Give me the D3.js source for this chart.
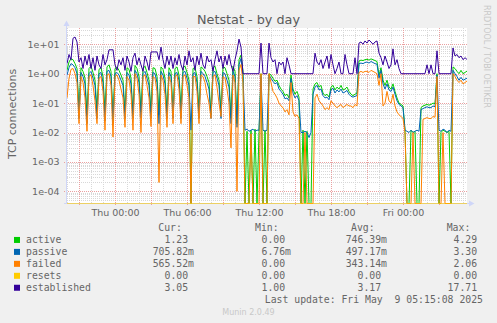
<!DOCTYPE html>
<html>
<head>
<meta charset="utf-8">
<script src="https://cdn.jsdelivr.net/npm/d3@7"></script>
<style>
body { margin: 0; background: #f0f0f0; }
svg { display: block; }
text { fill: #666; font-family: 'DejaVu Sans', sans-serif; }
.legend text { font-family: 'DejaVu Sans Mono', monospace; font-size: 9.8px; white-space: pre; }
</style>
</head>
<body>
<svg width="497" height="323"></svg>
<script>
// munin netstat, day view: one sample every 10 minutes
const start = new Date(2025, 4, 7, 20, 0)
const stepMinutes = 10

const active = [
    1.3, 2.5, 3.2, 3.0, 2.2, 1.5, 0.05, 1.6, 1.2, 0.7,
    0.04, 1.5, 1.8, 1.1, 0.6, 0.06, 1.4, 1.6, 0.8, 0.05,
    1.7, 2.0, 1.2, 0.03, 1.5, 1.7, 1.3, 0.9, 0.6, 0.05,
    1.6, 1.4, 0.7, 0.04, 1.9, 1.5, 0.8, 0.05, 1.5, 1.8,
    1.1, 0.6, 0.05, 1.6, 1.5, 0.8, 0.04, 1.7, 1.4, 0.7,
    0.05, 1.6, 1.2, 0.05, 1.5, 1.7, 0.9, 0.06, 1.6, 1.8,
    1.1, 0.6, 0, 1.5, 1.6, 0.8, 0.05, 1.7, 1.5, 1.2,
    0.8, 0.5, 0.04, 1.6, 1.8, 1.0, 0.6, 0.05, 1.7, 1.6,
    1.0, 0.6, 0.03, 1.8, 1.2, 0.02, 3.0, 4.29, 1.2, 0,
    0.011, 0, 0.012, 0, 0.013, 0, 0.01, 1.0, 0, 0.012,
    0, 1.0, 0.9, 0.7, 0.55, 0.6, 0.4, 0.3, 0.25, 0.18,
    0.2, 0.15, 0.9, 0.3, 0.2, 0.25, 0.16, 0, 0.012, 0,
    0.011, 0, 0, 0.3, 0.45, 0.5, 0.35, 0.4, 0.22, 0.18,
    0.2, 0.16, 0.35, 0.4, 0.28, 0.35, 0.3, 0.4, 0.28, 0.3,
    0.35, 0.25, 0.2, 0.18, 0.2, 0.22, 2.7, 2.9, 2.8, 3.0,
    3.1, 2.9, 3.2, 3.0, 2.8, 2.6, 0.9, 1.6, 0.6, 0.4,
    0.6, 0.35, 0.3, 0.45, 0.25, 0.15, 0.1, 0.09, 0.08, 0.012,
    0, 0, 0.012, 0.01, 0.011, 0, 0, 0.07, 0.08, 0.085,
    0.09, 0.085, 0.09, 0.1, 0.095, 1.0, 0, 0.01, 0.012, 0.011,
    0.01, 0.011, 0, 1.7, 1.5, 1.2, 1.0, 1.3, 1.0, 1.1,
    1.23
]

const passive = [
    0.9, 1.6, 2.2, 2.0, 1.6, 1.0, 0.03, 1.1, 0.8, 0.45,
    0.02, 1.0, 1.2, 0.7, 0.4, 0.03, 1.0, 1.1, 0.5, 0.025,
    1.2, 1.3, 0.8, 0.02, 1.0, 1.1, 0.9, 0.6, 0.4, 0.03,
    1.1, 0.9, 0.45, 0.03, 1.3, 1.0, 0.5, 0.03, 1.0, 1.2,
    0.7, 0.4, 0.03, 1.1, 1.0, 0.5, 0.02, 1.2, 0.9, 0.45,
    0.03, 1.1, 0.8, 0.03, 1.0, 1.1, 0.6, 0.03, 1.1, 1.2,
    0.7, 0.4, 0.012, 1.0, 1.1, 0.5, 0.03, 1.2, 1.0, 0.8,
    0.5, 0.3, 0.03, 1.1, 1.2, 0.7, 0.4, 0.03, 1.1, 1.0,
    0.6, 0.35, 0.02, 1.2, 0.8, 0.015, 2.0, 3.3, 0.8, 0.012,
    0.013, 0.011, 0.012, 0.013, 0.011, 0.012, 0.012, 0.8, 0.012, 0.011,
    0.012, 0.9, 0.7, 0.55, 0.45, 0.5, 0.3, 0.25, 0.2, 0.14,
    0.15, 0.12, 0.7, 0.22, 0.15, 0.18, 0.12, 0.01, 0.01, 0.011,
    0.01, 0.00676, 0.01, 0.2, 0.35, 0.4, 0.28, 0.3, 0.18, 0.15,
    0.16, 0.13, 0.28, 0.32, 0.22, 0.28, 0.24, 0.3, 0.22, 0.24,
    0.27, 0.2, 0.17, 0.16, 0.17, 0.18, 2.2, 2.3, 2.2, 2.4,
    2.5, 2.3, 2.6, 2.4, 2.2, 2.1, 0.7, 1.3, 0.45, 0.3,
    0.45, 0.28, 0.25, 0.35, 0.2, 0.12, 0.09, 0.08, 0.07, 0.012,
    0.011, 0.01, 0.012, 0.01, 0.011, 0.012, 0.011, 0.06, 0.065, 0.07,
    0.075, 0.07, 0.07, 0.08, 0.075, 0.9, 0.012, 0.011, 0.013, 0.012,
    0.01, 0.012, 0.011, 1.3, 1.0, 0.8, 0.6, 0.75, 0.6, 0.65,
    0.706
]

const failed = [
    0.15, 0.7, 1.4, 1.5, 1.0, 0.5, 0.02, 0.8, 0.5, 0.15,
    0.011, 0.8, 0.9, 0.4, 0.12, 0.02, 0.7, 0.8, 0.25, 0.012,
    0.9, 1.0, 0.4, 0.007, 0.8, 0.9, 0.6, 0.3, 0.15, 0.015,
    0.8, 0.6, 0.2, 0.012, 1.0, 0.7, 0.2, 0.01, 0.8, 0.9,
    0.4, 0.15, 0.016, 0.8, 0.7, 0.25, 0.0002, 0.9, 0.6, 0.2,
    0.015, 0.8, 0.5, 0.02, 0.8, 0.9, 0.3, 0.02, 0.8, 0.9,
    0.4, 0.15, 0, 0.8, 0.8, 0.25, 0.02, 0.9, 0.8, 0.5,
    0.2, 0.1, 0.03, 0.8, 0.9, 0.35, 0.1, 0.035, 0.8, 0.7,
    0.3, 0.1, 0.003, 0.9, 0.5, 0.0001, 1.3, 2.06, 0.5, 0,
    0, 0, 0.009, 0, 0, 0, 0, 1.0, 0, 0,
    0, 1.0, 0.5, 0.25, 0.2, 0.15, 0.1, 0.08, 0.07, 0.05,
    0.06, 0.04, 0.5, 0.05, 0.035, 0.04, 0.03, 0, 0, 0.01,
    0, 0, 0, 0, 0.15, 0.2, 0.12, 0.1, 0.08, 0.06,
    0.07, 0.06, 0.12, 0.1, 0.08, 0.07, 0.08, 0.09, 0.07, 0.08,
    0.09, 0.08, 0.08, 0.07, 0.09, 0.08, 1.1, 1.2, 1.1, 1.2,
    1.2, 1.1, 1.3, 1.2, 1.1, 1.0, 0.4, 1.0, 0.08, 0.1,
    0.25, 0.12, 0.1, 0.2, 0.08, 0.05, 0.04, 0.035, 0.03, 0.01,
    0, 0, 0, 0.01, 0, 0, 0, 0, 0.028, 0.03,
    0.032, 0.03, 0.03, 0.035, 0.033, 0.8, 0, 0, 0.01, 0,
    0, 0, 0, 1.0, 0.8, 0.6, 0.5, 0.6, 0.45, 0.5,
    0.566
]

const resets = [
    0, 0, 0, 0, 0, 0, 0, 0, 0, 0, 0, 0, 0, 0, 0, 0, 0, 0, 0, 0,
    0, 0, 0, 0, 0, 0, 0, 0, 0, 0, 0, 0, 0, 0, 0, 0, 0, 0, 0, 0,
    0, 0, 0, 0, 0, 0, 0, 0, 0, 0, 0, 0, 0, 0, 0, 0, 0, 0, 0, 0,
    0, 0, 0, 0, 0, 0, 0, 0, 0, 0, 0, 0, 0, 0, 0, 0, 0, 0, 0, 0,
    0, 0, 0, 0, 0, 0, 0, 0, 0, 0, 0, 0, 0, 0, 0, 0, 0, 0, 0, 0,
    0, 0, 0, 0, 0, 0, 0, 0, 0, 0, 0, 0, 0, 0, 0, 0, 0, 0, 0, 0,
    0, 0, 0, 0, 0, 0, 0, 0, 0, 0, 0, 0, 0, 0, 0, 0, 0, 0, 0, 0,
    0, 0, 0, 0, 0, 0, 0, 0, 0, 0, 0, 0, 0, 0, 0, 0, 0, 0, 0, 0,
    0, 0, 0, 0, 0, 0, 0, 0, 0, 0, 0, 0, 0, 0, 0, 0, 0, 0, 0, 0,
    0, 0, 0, 0, 0, 0, 0, 0, 0, 0, 0, 0, 0, 0, 0, 0, 0, 0, 0, 0,
    0
]

const established = [
    2.2, 4.5, 3, 16, 17.7, 12, 2.5, 3.5, 1.5, 4,
    2, 4.5, 1.5, 3.5, 1.3, 4, 2, 1.5, 4.5, 2,
    3, 6.5, 6.5, 6.5, 2, 1.3, 3, 2, 3.5, 1.3,
    4, 2.5, 1.2, 3.5, 5, 2, 3.5, 2, 1.2, 4,
    2.5, 1.3, 5.5, 5.5, 5.5, 5.5, 3, 8, 3, 1.5,
    4, 2, 4, 1.5, 3.5, 2, 4.5, 2, 1.3, 4,
    2, 6, 2.5, 3.5, 1.3, 4, 2, 5, 2, 1.5,
    4, 2.5, 3, 1.2, 3, 6, 2.5, 4, 1.5, 4,
    2, 4.5, 2, 1.2, 3, 6, 15, 8, 1, 1,
    1, 1, 1, 1, 1, 1, 1, 11, 1, 1,
    1, 11, 3.5, 2.5, 3, 1, 2.5, 2, 2.5, 1,
    3.5, 2, 1, 1, 1, 1, 1, 1, 1, 1,
    1, 1, 1, 1, 5, 2.5, 2, 3, 1.5, 2.5,
    4, 1.5, 4.5, 2, 1, 1.5, 2.5, 1, 1, 4.5,
    2, 1, 1, 1, 3.5, 1, 11, 12, 10, 13,
    11, 14, 12, 10, 12, 13, 5, 3.5, 2, 4,
    2.5, 1.5, 2, 7, 2, 3, 1.5, 1, 1, 1,
    1, 1, 1, 1, 1, 1, 1, 1, 1, 1,
    2, 1, 2, 1, 1, 6, 1, 1, 1, 1,
    1, 1, 1, 7.5, 4, 4.5, 3.5, 4, 3, 3.5,
    3.05
]

const names = ['active', 'passive', 'failed', 'resets', 'established']
const colors = ['#00cc00', '#0066b3', '#ff8000', '#ffcc00', '#330099']
const curText = ['1.23 ', '705.82m', '565.52m', '0.00 ', '3.05 ']
const minText = ['0.00 ', '6.76m', '0.00 ', '0.00 ', '1.00 ']
const avgText = ['746.39m', '497.17m', '343.14m', '0.00 ', '3.17 ']
const maxText = ['4.29 ', '3.30 ', '2.06 ', '0.00 ', '17.71 ']
const yTicks = [10, 1, 0.1, 0.01, 0.001, 0.0001]

const series = [active, passive, failed, resets, established]
const times = active.map((d, i) => d3.timeMinute.offset(start, i * stepMinutes))
const end = times[times.length - 1]

let svg = d3.select('svg')

let pLeft = 67, pRight = 467, pTop = 28, pBottom = 203

let x = d3.scaleTime().domain([start, end]).range([pLeft, pRight])
let y = d3.scaleLog().domain([1e-4, 10]).range([191.3, 44.3])

// plot canvas
svg.append('rect')
    .attr('x', pLeft).attr('y', pTop)
    .attr('width', pRight - pLeft).attr('height', pBottom - pTop)
    .attr('fill', '#fff')

// grid
let grid = svg.append('g')

let minorY = []
for (let e = -5; e <= 1; e++) {
    for (let m = 2; m <= 9; m++) {
        let v = m * Math.pow(10, e)
        if (y(v) > pTop && y(v) < pBottom) minorY.push(v)
    }
}

grid.selectAll('.hminor')
    .data(minorY)
    .enter().append('line')
    .attr('x1', pLeft).attr('x2', pRight)
    .attr('y1', d => Math.round(y(d)) + 0.5)
    .attr('y2', d => Math.round(y(d)) + 0.5)
    .attr('stroke', '#d8d8d8')
    .attr('stroke-dasharray', '1,1')

let hours = d3.timeHour.range(start, end)
grid.selectAll('.vminor')
    .data(hours.filter(d => d.getHours() % 3 != 0))
    .enter().append('line')
    .attr('x1', d => Math.round(x(d)) + 0.5)
    .attr('x2', d => Math.round(x(d)) + 0.5)
    .attr('y1', pTop).attr('y2', pBottom)
    .attr('stroke', '#d8d8d8')
    .attr('stroke-dasharray', '1,1')

grid.selectAll('.hmajor')
    .data(yTicks)
    .enter().append('line')
    .attr('x1', pLeft - 3).attr('x2', pRight)
    .attr('y1', d => Math.round(y(d)) + 0.5)
    .attr('y2', d => Math.round(y(d)) + 0.5)
    .attr('stroke', '#eaa0a0')
    .attr('stroke-dasharray', '1,1')

grid.selectAll('.vmajor')
    .data(hours.filter(d => d.getHours() % 3 == 0))
    .enter().append('line')
    .attr('x1', d => Math.round(x(d)) + 0.5)
    .attr('x2', d => Math.round(x(d)) + 0.5)
    .attr('y1', pTop).attr('y2', pBottom + 3)
    .attr('stroke', '#eaa0a0')
    .attr('stroke-dasharray', '1,1')

// axis lines
svg.append('line')
    .attr('x1', pLeft - 0.5).attr('x2', pLeft - 0.5)
    .attr('y1', pBottom + 0.5).attr('y2', 24)
    .attr('stroke', '#cfd6f8')
svg.append('line')
    .attr('x1', pLeft - 3).attr('x2', pRight + 3)
    .attr('y1', pBottom + 0.5).attr('y2', pBottom + 0.5)
    .attr('stroke', '#cfd6f8')

// series
svg.append('clipPath').attr('id', 'plot')
    .append('rect')
    .attr('x', pLeft).attr('y', pTop)
    .attr('width', pRight - pLeft + 1).attr('height', pBottom - pTop + 1)

let line = d3.line()
    .x((d, i) => x(times[i]))
    .y(d => d > 0 ? y(d) : pBottom + 0.5)

svg.append('g')
    .attr('clip-path', 'url(#plot)')
    .selectAll('path')
    .data(series)
    .enter().append('path')
    .attr('d', d => line(d))
    .attr('fill', 'none')
    .attr('stroke', (d, i) => colors[i])
    .attr('stroke-opacity', (d, i) => i == 3 ? 0.6 : 1)
    .attr('stroke-width', 1)

// arrows
svg.append('path')
    .attr('d', 'M63.5,26L66.5,20.5L69.5,26Z')
    .attr('fill', '#cfd6f8')
svg.append('path')
    .attr('d', 'M469,200.5L474.5,203.5L469,206.5Z')
    .attr('fill', '#cfd6f8')

// axis labels
let expFormat = v => {
    let e = Math.round(Math.log10(v))
    return '1e' + (e < 0 ? '-' : '+') + String(Math.abs(e)).padStart(2, '0')
}

let yAxis = svg.append('g')
    .attr('transform', 'translate(' + pLeft + ',0)')
    .call(d3.axisLeft(y).tickValues(yTicks).tickFormat(expFormat).tickSize(0).tickPadding(7.5))
yAxis.select('.domain').remove()
yAxis.selectAll('text')
    .attr('fill', '#666')
    .style('font-size', '9.5px')
    .style('font-family', 'DejaVu Sans')

let xAxis = svg.append('g')
    .attr('transform', 'translate(0,' + pBottom + ')')
    .call(d3.axisBottom(x)
        .tickValues(d3.timeHour.every(6).range(start, end))
        .tickFormat(d3.timeFormat('%a %H:%M'))
        .tickSize(0).tickPadding(6))
xAxis.select('.domain').remove()
xAxis.selectAll('text')
    .attr('fill', '#666')
    .style('font-size', '9.5px')
    .style('font-family', 'DejaVu Sans')

// titles
svg.append('text')
    .attr('x', 248.5).attr('y', 24)
    .attr('text-anchor', 'middle')
    .style('font-size', '12.8px')
    .style('fill', '#5a5a5a')
    .text('Netstat - by day')

svg.append('text')
    .attr('transform', 'translate(15.5,114) rotate(-90)')
    .attr('text-anchor', 'middle')
    .style('font-size', '11px')
    .text('TCP connections')

svg.append('text')
    .attr('transform', 'translate(484,5) rotate(90)')
    .style('font-size', '8px')
    .style('fill', '#c8c8c8')
    .text('RRDTOOL / TOBI OETIKER')

// legend
let legend = svg.append('g').attr('class', 'legend')
let row0 = 231, rowStep = 11.95

let headers = [['Cur:', 158.3], ['Min:', 255], ['Avg:', 351], ['Max:', 446.7]]
headers.forEach(h => {
    legend.append('text').attr('x', h[1]).attr('y', row0).text(h[0])
})

names.forEach((name, i) => {
    let by = row0 + rowStep * (i + 1)
    legend.append('rect')
        .attr('x', 14).attr('y', by - 6)
        .attr('width', 6).attr('height', 6)
        .attr('fill', colors[i])
    legend.append('text').attr('x', 26).attr('y', by).text(name)
    let cols = [[curText[i], 194], [minText[i], 291], [avgText[i], 387], [maxText[i], 483]]
    cols.forEach(c => {
        legend.append('text')
            .attr('x', c[1]).attr('y', by)
            .attr('text-anchor', 'end')
            .attr('xml:space', 'preserve')
            .text(c[0])
    })
})

legend.append('text')
    .attr('x', 483).attr('y', row0 + rowStep * 6)
    .attr('text-anchor', 'end')
    .attr('xml:space', 'preserve')
    .text('Last update: Fri May  9 05:15:08 2025')

svg.append('text')
    .attr('x', 248.5).attr('y', 315)
    .attr('text-anchor', 'middle')
    .style('font-size', '8px')
    .style('fill', '#c8c8c8')
    .text('Munin 2.0.49')
</script>
</body>
</html>
